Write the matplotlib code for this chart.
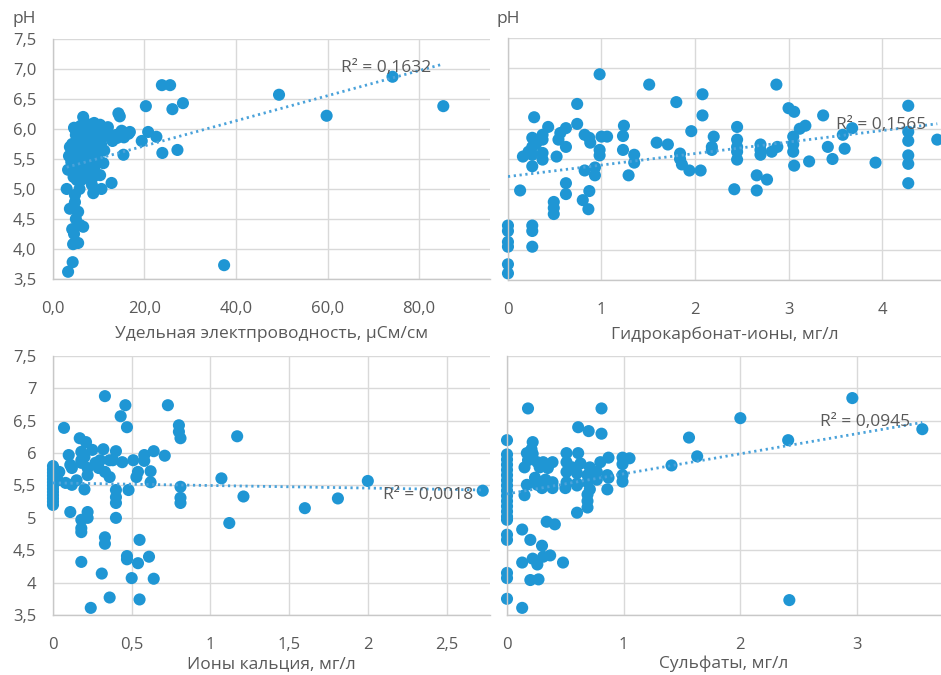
import matplotlib
matplotlib.use("Agg")
import matplotlib.pyplot as plt
from matplotlib.ticker import FixedLocator, FixedFormatter

plt.rcParams['font.family'] = ['Open Sans', 'DejaVu Sans']

# --- удельная электропроводность (мкСм/см) vs pH
ec_x = [3.0, 3.3, 3.7, 4.6, 6.6, 4.8, 8.1, 10.3, 12.0, 5.9,
        8.8, 11.0, 11.2, 15.4, 14.0, 16.8, 19.4, 5.2, 7.4, 11.0,
        10.3, 8.8, 10.6, 12.8, 8.5, 4.4, 5.5, 3.7, 4.2, 6.6,
        5.9, 4.4, 5.5, 4.3, 3.3, 4.6, 5.0, 4.8, 14.3, 14.6,
        20.3, 23.8, 25.6, 26.1, 28.4, 49.4, 59.8, 74.2, 85.3, 37.4,
        27.2, 23.9, 20.8, 22.6, 15.0, 16.5, 13.0, 15.5, 13.8, 11.5,
        4.5, 5.0, 5.5, 6.0, 6.5, 7.0, 7.5, 8.0, 8.5, 9.0,
        9.5, 10.0, 5.0, 5.5, 6.0, 6.5, 7.0, 7.5, 8.0, 8.5,
        9.0, 9.5, 4.5, 5.5, 6.5, 7.0, 8.0, 9.0, 6.0, 7.0,
        8.5, 9.0, 5.0, 4.2, 4.0, 6.2, 7.2, 8.8, 9.8, 12.5,
        10.5, 5.8, 4.8, 3.5, 7.8, 6.3]
ec_ph = [5.00, 5.32, 5.70, 6.02, 6.20, 6.00, 6.07, 6.07, 6.03, 5.87,
         5.93, 5.87, 5.64, 5.57, 5.85, 5.95, 5.80, 5.15, 5.43, 5.43,
         5.23, 4.93, 5.00, 5.10, 5.07, 4.70, 4.62, 4.67, 4.33, 4.37,
         4.40, 4.08, 4.10, 3.78, 3.62, 4.25, 4.50, 4.78, 6.26, 6.21,
         6.38, 6.73, 6.73, 6.33, 6.43, 6.57, 6.22, 6.87, 6.38, 3.73,
         5.65, 5.60, 5.95, 5.87, 5.97, 5.92, 5.80, 5.86, 5.90, 5.95,
         5.50, 5.60, 5.75, 5.80, 5.90, 5.95, 6.00, 5.85, 5.75, 5.80,
         5.95, 5.90, 5.35, 5.45, 5.55, 5.65, 5.70, 5.60, 5.50, 5.55,
         5.60, 5.70, 5.20, 5.25, 5.30, 5.40, 5.30, 5.35, 6.05, 6.10,
         6.05, 6.10, 5.90, 5.75, 5.45, 5.15, 5.20, 5.20, 5.50, 5.90,
         5.75, 5.00, 4.90, 5.55, 5.75, 5.95]
ec_trend = (0.0209, 5.30)   # наклон, свободный член
ec_r2 = "R² = 0,1632"

# --- гидрокарбонат-ионы (мг/л) vs pH
hco3_x = [0.98, 1.51, 2.08, 2.87, 1.80, 0.74, 0.28, 2.08, 3.00, 3.06,
          3.37, 4.28, 4.28, 4.28, 4.28, 4.28, 4.28, 4.59, 3.93, 3.68,
          3.58, 3.60, 3.42, 3.47, 3.18, 3.12, 3.05, 3.05, 3.05, 3.06,
          3.22, 2.88, 2.82, 2.70, 2.70, 2.70, 2.66, 2.66, 2.77, 2.45,
          2.45, 2.45, 2.45, 2.45, 2.42, 2.20, 2.18, 2.18, 1.96, 1.84,
          1.84, 1.86, 1.94, 2.06, 1.59, 1.71, 1.24, 1.23, 1.23, 1.35,
          1.35, 1.29, 1.06, 1.00, 0.98, 0.98, 0.82, 0.87, 0.88, 0.82,
          0.93, 0.93, 0.74, 0.62, 0.56, 0.54, 0.62, 0.52, 0.43, 0.37,
          0.37, 0.37, 0.37, 0.26, 0.26, 0.26, 0.26, 0.16, 0.13, 0.62,
          0.62, 0.49, 0.49, 0.49, 0.87, 0.80, 0.86, 0.26, 0.26, 0.26,
          0.00, 0.00, 0.00, 0.00, 0.00, 0.00, 0.30, 0.22]
hco3_ph = [6.90, 6.73, 6.57, 6.73, 6.44, 6.41, 6.19, 6.22, 6.34, 6.28,
           6.22, 6.38, 5.95, 5.80, 5.56, 5.42, 5.10, 5.82, 5.44, 6.01,
           5.90, 5.67, 5.70, 5.50, 6.05, 6.00, 5.87, 5.74, 5.62, 5.39,
           5.46, 5.70, 5.62, 5.74, 5.57, 5.65, 5.23, 4.98, 5.16, 6.03,
           5.82, 5.70, 5.62, 5.49, 5.00, 5.87, 5.70, 5.65, 5.96, 5.59,
           5.50, 5.41, 5.31, 5.31, 5.77, 5.74, 6.05, 5.88, 5.65, 5.57,
           5.44, 5.23, 5.87, 5.87, 5.65, 5.56, 5.90, 5.85, 5.77, 5.31,
           5.36, 5.23, 6.08, 6.01, 5.93, 5.82, 5.70, 5.54, 6.03, 5.90,
           5.82, 5.60, 5.49, 5.85, 5.70, 5.57, 5.38, 5.54, 4.98, 5.10,
           4.92, 4.79, 4.69, 4.59, 4.97, 4.82, 4.67, 4.40, 4.31, 4.05,
           4.40, 4.31, 4.13, 4.05, 3.76, 3.61, 5.75, 5.62]
hco3_trend = (0.19, 5.21)
hco3_r2 = "R² = 0,1565"

# --- ионы кальция (мг/л) vs pH
ca_x = [0.33, 0.46, 0.73, 0.43, 0.47, 0.07, 0.80, 0.80, 0.81, 1.17,
        0.17, 0.21, 0.10, 0.32, 0.40, 0.64, 0.71, 0.58, 0.58, 0.51,
        0.62, 0.62, 0.54, 0.53, 0.48, 0.40, 0.40, 0.40, 0.40, 0.81,
        0.81, 0.81, 1.07, 1.21, 1.12, 1.60, 1.81, 2.00, 2.73, 0.20,
        0.11, 0.22, 0.22, 0.18, 0.18, 0.18, 0.33, 0.33, 0.55, 0.18,
        0.47, 0.47, 0.54, 0.61, 0.31, 0.50, 0.64, 0.36, 0.55, 0.24,
        0.00, 0.00, 0.00, 0.00, 0.00, 0.00, 0.00, 0.00, 0.00, 0.00,
        0.00, 0.00, 0.00, 0.18, 0.25, 0.38, 0.44, 0.11, 0.12, 0.18,
        0.22, 0.27, 0.29, 0.33, 0.36, 0.22, 0.15, 0.08, 0.12, 0.04,
        0.03, 0.18, 0.20, 0.30, 0.36]
ca_ph = [6.88, 6.74, 6.74, 6.57, 6.40, 6.39, 6.43, 6.33, 6.23, 6.26,
         6.23, 6.17, 5.97, 6.06, 6.03, 6.03, 5.96, 5.97, 5.88, 5.89,
         5.72, 5.55, 5.71, 5.63, 5.43, 5.43, 5.32, 5.23, 5.00, 5.48,
         5.31, 5.23, 5.61, 5.33, 4.92, 5.15, 5.30, 5.57, 5.42, 5.44,
         5.09, 5.09, 5.00, 4.97, 4.84, 4.78, 4.70, 4.60, 4.66, 4.32,
         4.41, 4.36, 4.30, 4.40, 4.14, 4.07, 4.06, 3.77, 3.74, 3.61,
         5.80, 5.75, 5.70, 5.65, 5.60, 5.55, 5.50, 5.45, 5.40, 5.35,
         5.30, 5.25, 5.20, 6.02, 6.05, 5.89, 5.86, 5.82, 5.77, 5.85,
         5.77, 5.85, 5.77, 5.71, 5.63, 5.66, 5.58, 5.54, 5.51, 5.71,
         5.58, 5.89, 5.94, 5.89, 5.89]
ca_trend = (-0.04, 5.54)
ca_r2 = "R² = 0,0018"

# --- сульфаты (мг/л) vs pH
so4_x = [2.96, 2.00, 3.56, 2.41, 1.56, 1.63, 1.41, 2.42, 0.18, 0.81,
         0.61, 0.70, 0.81, 0.00, 0.22, 0.21, 0.22, 0.51, 0.61, 0.17,
         0.18, 0.15, 0.26, 0.31, 0.39, 0.35, 0.28, 0.51, 0.56, 0.63,
         0.71, 0.80, 0.87, 0.51, 0.60, 0.69, 0.77, 0.86, 0.24, 0.33,
         0.17, 0.39, 0.51, 0.60, 0.69, 0.77, 0.87, 0.15, 0.26, 0.30,
         0.39, 0.50, 0.60, 0.69, 0.69, 0.69, 0.71, 0.86, 0.60, 0.99,
         1.05, 0.99, 0.99, 0.34, 0.41, 0.13, 0.20, 0.30, 0.00, 0.00,
         0.13, 0.22, 0.26, 0.31, 0.37, 0.48, 0.00, 0.00, 0.20, 0.27,
         0.00, 0.13, 0.00, 0.00, 0.00, 0.00, 0.00, 0.00, 0.00, 0.00,
         0.00, 0.00, 0.00, 0.00, 0.00, 0.00, 0.99]
so4_ph = [6.85, 6.54, 6.37, 6.20, 6.24, 5.95, 5.81, 3.73, 6.69, 6.69,
          6.40, 6.34, 6.30, 6.20, 6.17, 6.06, 5.99, 6.00, 6.00, 6.00,
          5.89, 5.78, 5.86, 5.86, 5.86, 5.77, 5.78, 5.86, 5.78, 5.84,
          5.78, 5.86, 5.93, 5.71, 5.69, 5.66, 5.71, 5.66, 5.62, 5.59,
          5.51, 5.55, 5.55, 5.53, 5.55, 5.59, 5.62, 5.35, 5.51, 5.46,
          5.46, 5.46, 5.50, 5.36, 5.26, 5.16, 5.44, 5.44, 5.08, 5.93,
          5.92, 5.66, 5.56, 4.94, 4.90, 4.82, 4.66, 4.57, 4.74, 4.66,
          4.31, 4.37, 4.28, 4.40, 4.42, 4.31, 4.15, 4.07, 4.04, 4.05,
          3.75, 3.61, 5.98, 5.90, 5.82, 5.74, 5.66, 5.58, 5.50, 5.42,
          5.34, 5.26, 5.18, 5.10, 5.02, 4.97, 5.83]
so4_trend = (0.31, 5.37)
so4_r2 = "R² = 0,0945"

ph_ticks = [3.5, 4.0, 4.5, 5.0, 5.5, 6.0, 6.5, 7.0, 7.5]
ph_labels_1 = ["3,5", "4,0", "4,5", "5,0", "5,5", "6,0", "6,5", "7,0", "7,5"]
ph_labels_2 = ["3,5", "4", "4,5", "5", "5,5", "6", "6,5", "7", "7,5"]

DOT = "#1f96d4"
LINE = "#4aa2da"
GRID = "#d9d9d9"
TXT = "#595959"


def draw_panel(ax, x, y, trend, r2, r2_pos, xticks, xlabels, xmax, xlabel, ylabels, lpad=6):
    ax.set_xlim(0, xmax)
    ax.set_ylim(3.5, 7.5)
    ax.xaxis.set_major_locator(FixedLocator(xticks))
    ax.xaxis.set_major_formatter(FixedFormatter(xlabels))
    ax.yaxis.set_major_locator(FixedLocator(ph_ticks))
    if ylabels:
        ax.yaxis.set_major_formatter(FixedFormatter(ylabels))
    else:
        ax.set_yticklabels([])
    ax.grid(True, color=GRID, lw=1.0, zorder=0)
    ax.set_axisbelow(True)
    for s in ["top", "right"]:
        ax.spines[s].set_visible(False)
    for s in ["left", "bottom"]:
        ax.spines[s].set_color("#c8c8c8")
        ax.spines[s].set_linewidth(1.0)
    ax.tick_params(length=0, labelsize=12, labelcolor=TXT)
    ax.tick_params(axis="x", pad=16)
    ax.tick_params(axis="y", pad=12)
    ax.scatter(x, y, s=76, color=DOT, edgecolors="none", zorder=2, clip_on=False)
    x0, x1 = min(x), max(x)
    k, b = trend
    ax.plot([x0, x1], [b + k * x0, b + k * x1], color=LINE, lw=2,
            linestyle=(0, (0.8, 1.3)), zorder=3)
    ax.text(r2_pos[0], r2_pos[1], r2, transform=ax.transAxes, ha="center",
            va="center", fontsize=12.5, color=TXT, zorder=4)
    ax.set_xlabel(xlabel, fontsize=12.5, color=TXT, labelpad=lpad)


fig = plt.figure(figsize=(9.41, 6.75), dpi=100)
ax1 = fig.add_axes([0.0563, 0.5867, 0.4644, 0.3556])
ax2 = fig.add_axes([0.5398, 0.5852, 0.4602, 0.3585])
ax3 = fig.add_axes([0.0563, 0.0889, 0.4644, 0.3837])
ax4 = fig.add_axes([0.5388, 0.0889, 0.4612, 0.3837])

draw_panel(ax1, ec_x, ec_ph, ec_trend, ec_r2, (0.762, 0.880),
           [0, 20, 40, 60, 80], ["0,0", "20,0", "40,0", "60,0", "80,0"], 95.5,
           "Удельная электпроводность, µСм/см", ph_labels_1)
draw_panel(ax2, hco3_x, hco3_ph, hco3_trend, hco3_r2, (0.861, 0.64),
           [0, 1, 2, 3, 4], ["0", "1", "2", "3", "4"], 4.63,
           "Гидрокарбонат-ионы, мг/л", None)
draw_panel(ax3, ca_x, ca_ph, ca_trend, ca_r2, (0.858, 0.463),
           [0, 0.5, 1, 1.5, 2, 2.5], ["0", "0,5", "1", "1,5", "2", "2,5"], 2.776,
           "Ионы кальция, мг/л", ph_labels_2, lpad=2)
draw_panel(ax4, so4_x, so4_ph, so4_trend, so4_r2, (0.825, 0.745),
           [0, 1, 2, 3], ["0", "1", "2", "3"], 3.72,
           "Сульфаты, мг/л", None, lpad=2)

fig.text(24 / 941, 1 - 19 / 675, "pH", ha="center", va="center", fontsize=12.5, color=TXT)
fig.text(508 / 941, 1 - 19 / 675, "pH", ha="center", va="center", fontsize=12.5, color=TXT)

fig.savefig("out.png", dpi=100)
